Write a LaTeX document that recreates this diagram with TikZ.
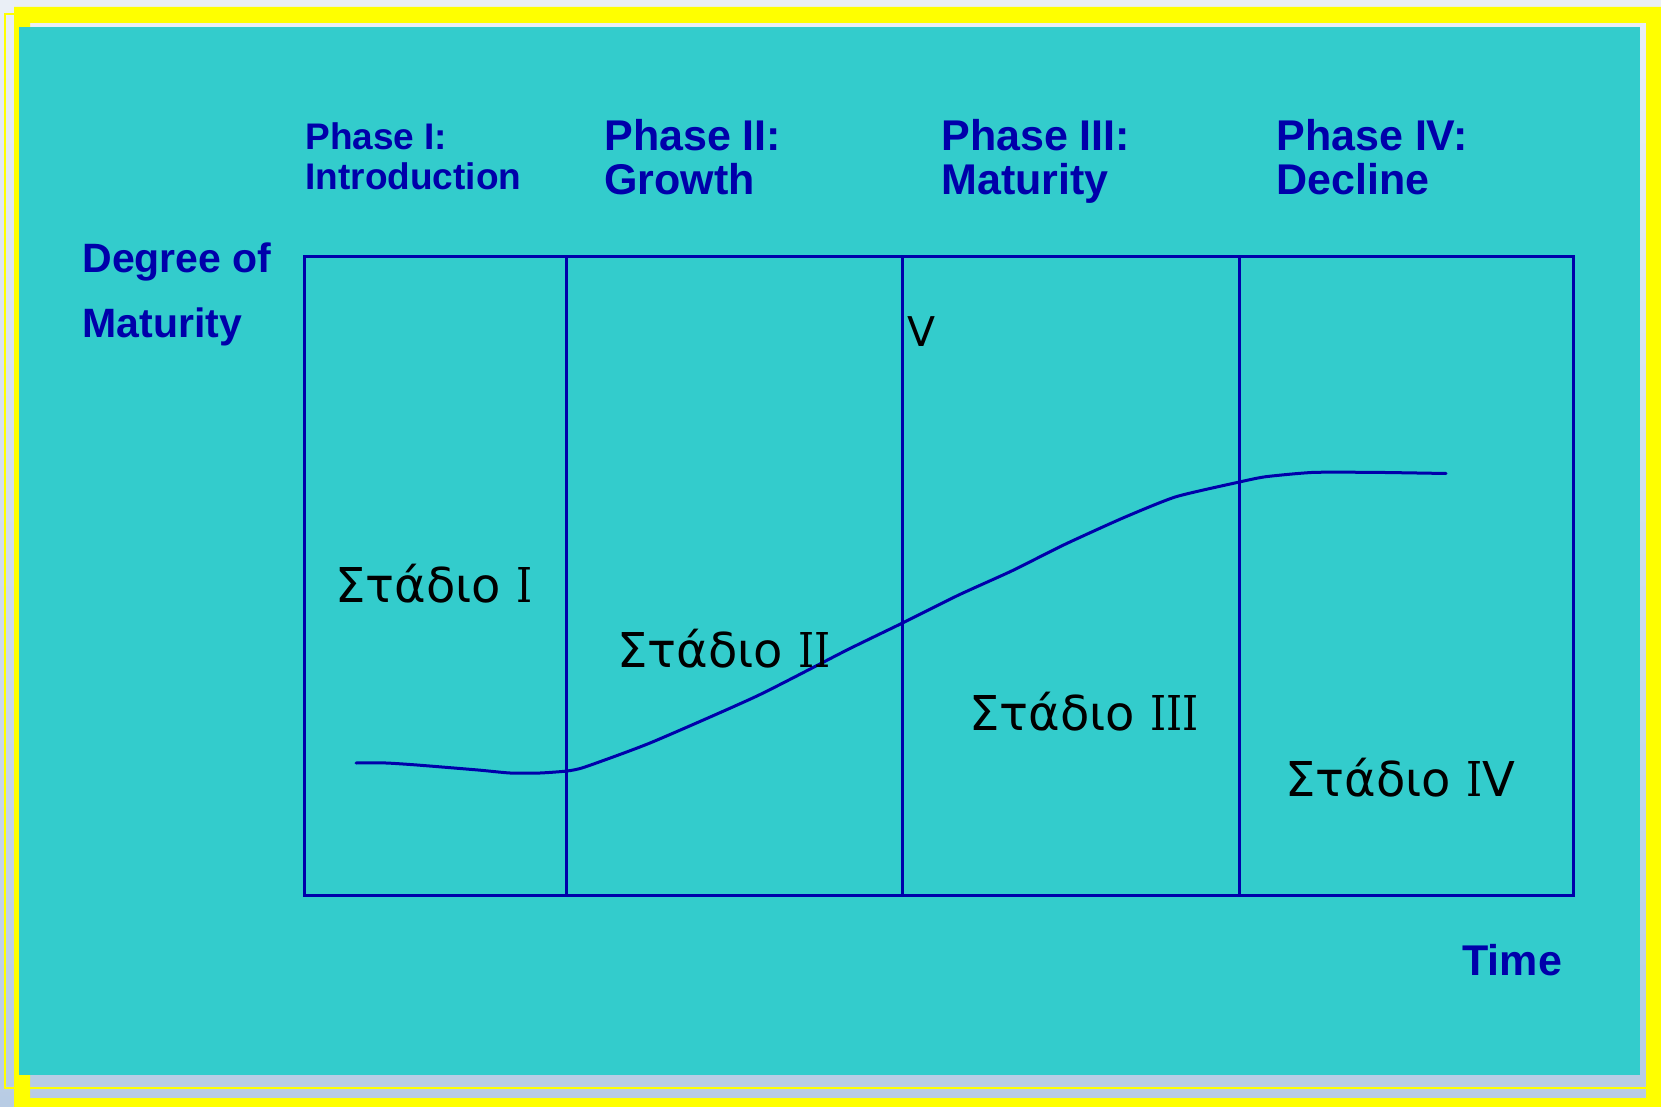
\documentclass[tikz,border=0pt]{standalone}
\usepackage{fontspec}
\setmainfont{Liberation Sans}
\newfontfamily\grk{DejaVu Sans}
\newfontfamily\grkserif{DejaVu Serif}
\newcommand\romI{{\grkserif\scalebox{0.85}[1]{I}}}
\definecolor{teal1}{HTML}{33CCCC}
\definecolor{ink}{HTML}{0000AA}
\definecolor{bgtop}{HTML}{EAEFF6}
\definecolor{bgbot}{HTML}{B8CCE4}
\definecolor{yel}{HTML}{FFFF00}
\tikzset{
  head/.style={anchor=base west, inner sep=0pt, text=ink, font=\bfseries\fontsize{21.5}{24}\selectfont},
  headsmall/.style={head, font=\bfseries\fontsize{18.5}{21}\selectfont},
  stage/.style={anchor=base west, inner sep=0pt, text=black, font=\grk\fontsize{24}{28}\selectfont},
  frameline/.style={draw=ink, line width=1.5pt},
}
\begin{document}
\begin{tikzpicture}[x=0.5pt,y=-0.5pt]
\useasboundingbox (0,0) rectangle (1661,1107);
% background gradient
\shade[top color=bgtop, bottom color=bgbot] (0,0) rectangle (1661,1107);
% thin yellow outline
\draw[yel, line width=1pt] (5,14) rectangle (1700,1088);
% thick yellow frame
\fill[yel, even odd rule] (14,7) rectangle (1661,1107) (30,23) rectangle (1646,1098);
% teal panel
\fill[teal1] (19,27) rectangle (1640,1075);
% chart box
\coordinate (tl) at (304,257);
\coordinate (br) at (1573,895);
\draw[frameline] (tl) rectangle (br);
\foreach \x/\n in {566.7/a,902.5/b,1239.4/c}{
  \coordinate (top\n) at (\x,257);
  \coordinate (bot\n) at (\x,895);
  \draw[frameline] (top\n) -- (bot\n);
}
% curve
\draw[ink, line width=1.5pt, line join=round, line cap=round] plot[smooth, tension=0.35] coordinates {
 (356,763) (386,763) (417,765) (478,770) (510,773) (540,773) (567,771) (585,767)
 (651,742.6) (757,696) (847,650) (902.5,623) (958.7,595) (1011.6,571) (1064.6,544.5)
 (1122.9,518) (1175.8,496.8) (1239.4,482) (1265.9,476.7) (1313.5,472.4) (1377,472.4) (1446,473.5)};
% headers
\node[headsmall] (p1a) at (305,150) {Phase I:};
\node[headsmall] (p1b) at (305,190) {Introduction};
\node[head] (p2a) at (604,151) {Phase II:};
\node[head] (p2b) at (604,195) {Growth};
\node[head] (p3a) at (941,151) {Phase III:};
\node[head] (p3b) at (941,195) {Maturity};
\node[head] (p4a) at (1276,151) {Phase IV:};
\node[head] (p4b) at (1276,195) {Decline};
\node[head, font=\bfseries\fontsize{20.5}{24}\selectfont] (ya) at (82,273) {Degree of};
\node[head, font=\bfseries\fontsize{20.5}{24}\selectfont] (yb) at (82,338) {Maturity};
\node[head] (time) at (1462,975) {Time};
% stage labels
\node[stage] (s1) at (335,602) {Στάδιο \romI};
\node[stage] (s2) at (617,667) {Στάδιο \romI\romI};
\node[stage] (s3) at (969,730) {Στάδιο \romI\romI\romI};
\node[stage] (s4) at (1285,796) {Στάδιο \romI V};
\node[anchor=base west, inner sep=0pt, font=\grk\fontsize{20.5}{24}\selectfont] (v) at (907,347) {V};
\end{tikzpicture}
\end{document}
